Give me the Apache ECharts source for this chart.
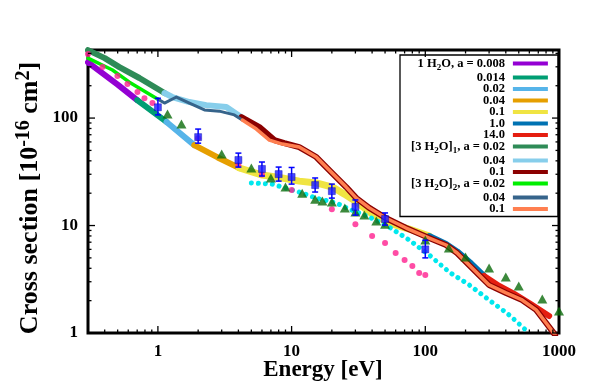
<!DOCTYPE html>
<html><head><meta charset="utf-8">
<script src="https://cdn.jsdelivr.net/npm/echarts@6/dist/echarts.min.js"></script>
<style>html,body{margin:0;padding:0;background:#fff}#c{width:592px;height:387px}</style>
</head><body><div id="c"></div>
<script>
// ---- axes ----
const xMin = 0.3, xMax = 1000, yMin = 1, yMax = 430;
const xMajorTicks = [1, 10, 100, 1000];
const xMinorTicks = [0.4,0.5,0.6,0.7,0.8,0.9,2,3,4,5,6,7,8,9,20,30,40,50,60,70,80,90,200,300,400,500,600,700,800,900];
const yMajorTicks = [1, 10, 100];
const yMinorTicks = [2,3,4,5,6,7,8,9,20,30,40,50,60,70,80,90,200,300,400];
const tickLabels = ['1', '10', '100', '1000'];

// ---- 1 H2O curve, segments by parameter a ----
const h008 = [[0.3,330],[0.5,205],[0.7,147]];
const h014 = [[0.7,147],[1.16,92]];
const h02  = [[1.16,92],[1.87,56]];
const h04  = [[1.87,56],[2.8,43],[4.07,34.3]];
const h1   = [[4.07,34.3],[6.04,29.5],[8.5,27.7],[11.4,25.9],[15.3,24.9],[20.2,22.8],[24.8,19.6],[30.5,16.6],[40.1,12.8],[53.7,10.5],[75.7,9.28],[107,7.98]];
const h10  = [[107,7.98],[143,6.75],[173,5.75],[220,4.45],[275,3.4]];
const h140 = [[275,3.4],[357,2.74],[462,2.31],[598,1.9],[844,1.44]];
// ---- [3 H2O]1 ----
const t1a = [[0.3,429],[0.4,361],[0.515,298],[0.727,236],[1.12,171]];
const t1b = [[1.12,171],[1.28,157],[1.72,141],[2.3,132],[3.25,127],[4.21,102]];
const t1c = [[4.21,102],[5.74,82.4],[7.43,62.4],[8.83,58.5],[11.4,53.7],[15.3,43.4],[19.1,32.8],[25.6,22.8],[30.5,18],[38.1,14.6],[51,11.7],[71.9,9.48],[107,7.65],[143,6.59],[173,5.55],[240,3.69],[300,2.8],[402,2.36],[530,2.03],[675,1.64],[801,1.24],[935,0.96]];
// ---- [3 H2O]2 ----
const t2a = [[0.3,361],[0.457,280],[0.612,216],[1.0,150]];
const t2b = [[1.0,150],[1.12,138],[1.375,157],[1.72,138],[2.23,119],[2.88,116],[3.73,107],[4.28,95.8]];
const t2c = [[4.28,95.8],[5.45,79],[6.82,62.4],[8.53,57.3],[11.4,53.7],[15.3,43.4],[19.1,32.8],[25.6,22.8],[30.5,18],[38.1,14.6],[51,11.7],[71.9,9.48],[107,7.65],[143,6.59],[173,5.55],[240,3.69],[300,2.8],[402,2.36],[530,2.03],[675,1.64],[801,1.24],[935,0.96]];
// ---- reference data ----
const cyanCurve = [[5,24.9],[7.17,24.3],[11.4,20.5],[15.3,18],[21.6,16.2],[27,14.2],[38.1,12],[53.7,9.68],[75.7,7.33],[107,5.32],[151,3.69],[213,2.8],[300,2.03],[424,1.47],[598,1]];
const pinkDots = [[0.3,394],[0.385,298],[0.498,246],[0.592,207],[0.703,175],[0.793,153],[0.91,138],[2,65],[4,36.5],[6,29.8],[10,21.4],[20,14.2],[30,10.3],[40,8.0],[50,6.88],[60,5.55],[70,4.78],[80,4.2],[90,3.61],[100,3.47]];
const triangles = [[1.18,109],[1.5,88],[3,46.3],[5,34.3],[7,27.7],[9,22.8],[12,20],[15,17.6],[17,16.9],[20,16.6],[25,14.6],[30,13.4],[35,12.5],[43,11],[50,10.3],[100,7.33],[150,6.18],[200,5.09],[300,4.02],[400,3.32],[500,2.74],[750,2.07],[1000,1.6]];
const squareX = [1,2,4,6,8,10,15,20,30,50,100];
const squareY = [126,66.5,40.7,33.6,30.1,28.3,23.8,20.9,14.9,11.5,6.0];
const squareLow = [107,58.4,35,28.9,25.9,24.3,20.5,18,12.5,10.1,5.0];
const squareHigh = [153,79,47.2,39,35,34.7,27.7,24.3,17.3,13.1,7.3];

const legendLabels = {
  h008: '1 H{s|2}O, a = 0.008', h014: '0.014', h02: '0.02', h04: '0.04', h1: '0.1', h10: '1.0', h140: '14.0',
  t1a: '[3 H{s|2}O]{s|1}, a = 0.02', t1b: '0.04', t1c: '0.1',
  t2a: '[3 H{s|2}O]{s|2}, a = 0.02', t2b: '0.04', t2c: '0.1'
};
const lines = [
  ['h008', h008, '#9400d3', 6], ['h014', h014, '#009e73', 6], ['h02', h02, '#56b4e9', 6],
  ['h04', h04, '#e69f00', 6], ['h1', h1, '#f0e442', 7], ['h10', h10, '#0072b2', 6], ['h140', h140, '#e51e10', 6],
  ['t1a', t1a, '#2e8b57', 6], ['t1b', t1b, '#87ceeb', 6], ['t1c', t1c, '#8b0000', 6],
  ['t2a', t2a, '#00ee00', 3.5], ['t2b', t2b, '#36648b', 3], ['t2c', t2c, '#ff7f50', 3.5]
];

const FONT = '"Liberation Serif", "Times New Roman", serif';
const chart = echarts.init(document.getElementById('c'), null, {renderer: 'canvas'});

function isDecade(v) { const l = Math.log10(v); return Math.abs(l - Math.round(l)) < 1e-6; }

function tickSeries(values, isX, len) {
  return {
    type: 'custom', silent: true, clip: false, z: 10,
    data: values.map(v => isX ? [v, yMin] : [xMin, v]),
    renderItem: function (params, api) {
      let a, b, c1, c2;
      if (isX) {
        const v = api.value(0);
        a = api.coord([v, yMin]); b = api.coord([v, yMax]);
        c1 = {x1: a[0], y1: a[1], x2: a[0], y2: a[1] - len};
        c2 = {x1: b[0], y1: b[1], x2: b[0], y2: b[1] + len};
      } else {
        const v = api.value(1);
        a = api.coord([xMin, v]); b = api.coord([xMax, v]);
        c1 = {x1: a[0], y1: a[1], x2: a[0] + len, y2: a[1]};
        c2 = {x1: b[0], y1: b[1], x2: b[0] - len, y2: b[1]};
      }
      return {type: 'group', children: [
        {type: 'line', shape: c1, style: {stroke: '#000', lineWidth: 1.3}},
        {type: 'line', shape: c2, style: {stroke: '#000', lineWidth: 1.3}}
      ]};
    }
  };
}

const series = lines.map(([name, data, color, w]) => ({
  name, type: 'line', data, color, showSymbol: false, symbol: 'none',
  lineStyle: {color, width: w, cap: 'round', join: 'round'}, z: 2
}));
series.push({
  name: 'cyan', type: 'line', data: cyanCurve, showSymbol: false, symbol: 'none', z: 3,
  lineStyle: {color: '#00e8ee', width: 5, type: [0.01, 7], cap: 'round'}
});
series.push({
  name: 'pink', type: 'scatter', data: pinkDots, symbol: 'circle', symbolSize: 6, z: 4,
  itemStyle: {color: '#ff1f8f'}
});
series.push({
  name: 'tri', type: 'scatter', data: triangles, symbol: 'triangle', symbolSize: [10, 9], z: 5,
  itemStyle: {color: '#0b6b0b'}
});
series.push({
  name: 'err', type: 'custom', z: 6, silent: true,
  data: squareX.map((x, i) => [x, squareLow[i], squareHigh[i]]),
  renderItem: function (params, api) {
    const lo = api.coord([api.value(0), api.value(1)]);
    const hi = api.coord([api.value(0), api.value(2)]);
    const cw = 3;
    return {type: 'group', children: [
      {type: 'line', shape: {x1: lo[0], y1: lo[1], x2: hi[0], y2: hi[1]}, style: {stroke: '#0000ff', lineWidth: 1.5}},
      {type: 'line', shape: {x1: lo[0]-cw, y1: lo[1], x2: lo[0]+cw, y2: lo[1]}, style: {stroke: '#0000ff', lineWidth: 1.5}},
      {type: 'line', shape: {x1: hi[0]-cw, y1: hi[1], x2: hi[0]+cw, y2: hi[1]}, style: {stroke: '#0000ff', lineWidth: 1.5}}
    ]};
  }
});
series.push({
  name: 'sq', type: 'scatter', data: squareX.map((x, i) => [x, squareY[i]]), symbol: 'rect', symbolSize: 7, z: 7,
  itemStyle: {color: '#1a1aff', borderColor: '#0000aa', borderWidth: 0.5}
});
series.push(tickSeries(xMajorTicks, true, 7));
series.push(tickSeries(xMinorTicks, true, 3.5));
series.push(tickSeries(yMajorTicks, false, 7));
series.push(tickSeries(yMinorTicks, false, 3.5));

const axisLabelStyle = {
  color: '#000', fontFamily: FONT, fontWeight: 'bold', fontSize: 17, margin: 10
};

chart.setOption({
  animation: false,
  backgroundColor: '#fff',
  grid: {left: 88, right: 33, top: 50, bottom: 54, show: true, borderColor: '#000', borderWidth: 3, backgroundColor: 'transparent'},
  xAxis: {
    type: 'log', logBase: 10, min: xMin, max: xMax,
    axisLine: {show: false}, axisTick: {show: false}, splitLine: {show: false}, minorTick: {show: false},
    axisLabel: Object.assign({}, axisLabelStyle, {
      formatter: v => isDecade(v) ? tickLabels[Math.round(Math.log10(v))] : ''
    })
  },
  yAxis: {
    type: 'log', logBase: 10, min: yMin, max: yMax,
    axisLine: {show: false}, axisTick: {show: false}, splitLine: {show: false}, minorTick: {show: false},
    axisLabel: Object.assign({}, axisLabelStyle, {
      formatter: v => isDecade(v) ? tickLabels[Math.round(Math.log10(v))] : ''
    })
  },
  legend: {
    data: lines.map(l => l[0]),
    orient: 'vertical', left: 400, top: 55, align: 'right',
    icon: 'rect', itemWidth: 35, itemHeight: 4, itemGap: -1.5,
    padding: [2, 10, 1, 11],
    backgroundColor: '#fff', borderColor: '#000', borderWidth: 1.3, borderRadius: 0,
    selectedMode: false,
    formatter: name => legendLabels[name],
    textStyle: {
      color: '#000', fontFamily: FONT, fontWeight: 'bold', fontSize: 12.5, lineHeight: 12,
      width: 92, align: 'right', padding: [0, 3, 0, 0],
      rich: {
        s: {fontFamily: FONT, fontWeight: 'bold', fontSize: 9, lineHeight: 8, verticalAlign: 'bottom', align: 'right', padding: [0, 0, -3, 0]}
      }
    }
  },
  graphic: [
    {
      type: 'text', x: 30, y: 198, rotation: Math.PI / 2, silent: true,
      style: {
        text: 'Cross section [10{sup|-16} cm{sup|2}]',
        fontFamily: FONT, fontWeight: 'bold', fontSize: 26, lineHeight: 32,
        align: 'center', verticalAlign: 'middle', fill: '#000',
        rich: {sup: {fontFamily: FONT, fontWeight: 'bold', fontSize: 20, lineHeight: 18, verticalAlign: 'top', fill: '#000'}}
      }
    },
    {
      type: 'text', x: 323, y: 370, silent: true,
      style: {
        text: 'Energy [eV]', fontFamily: FONT, fontWeight: 'bold', fontSize: 23,
        align: 'center', verticalAlign: 'middle', fill: '#000'
      }
    }
  ],
  series
});
</script>
</body></html>
